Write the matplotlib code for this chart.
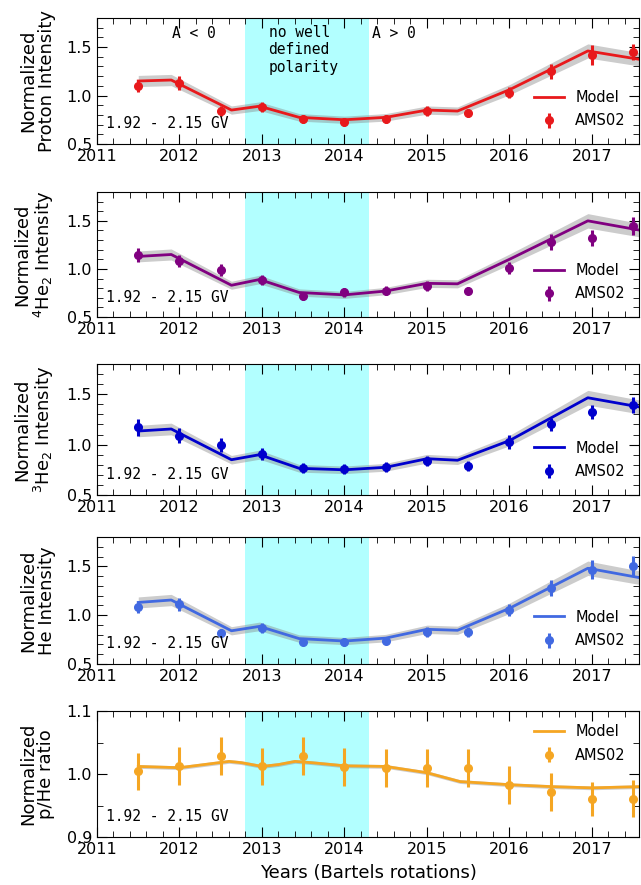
import numpy as np
import matplotlib
matplotlib.use('Agg')
import matplotlib.pyplot as plt
from matplotlib.ticker import MultipleLocator


# AMS02 time points (half-year steps)
obs_years = [2011.5, 2012.0, 2012.5, 2013.0, 2013.5, 2014.0, 2014.5,
             2015.0, 2015.5, 2016.0, 2016.5, 2017.0, 2017.5]

# model nodes for the intensity panels
model_years = [2011.5, 2011.9, 2012.63, 2012.97, 2013.45, 2014.0,
               2014.5, 2015.0, 2015.37, 2016.0, 2016.95, 2017.6]

proton_model = [1.15, 1.16, 0.85, 0.89, 0.775, 0.75, 0.775, 0.85, 0.84, 1.06, 1.46, 1.37]
proton_obs = [1.10, 1.13, 0.84, 0.88, 0.76, 0.73, 0.76, 0.84, 0.82, 1.03, 1.25, 1.42, 1.45]
proton_err = [0.06, 0.07, 0.05, 0.05, 0.04, 0.04, 0.04, 0.05, 0.04, 0.06, 0.08, 0.10, 0.08]

he4_model = [1.13, 1.15, 0.83, 0.89, 0.755, 0.73, 0.77, 0.85, 0.845, 1.10, 1.50, 1.40]
he4_obs = [1.145, 1.08, 0.99, 0.885, 0.72, 0.755, 0.775, 0.825, 0.775, 1.01, 1.28, 1.32, 1.445]
he4_err = [0.07, 0.06, 0.06, 0.05, 0.04, 0.05, 0.05, 0.05, 0.04, 0.06, 0.08, 0.08, 0.09]

he3_model = [1.135, 1.155, 0.85, 0.90, 0.765, 0.75, 0.775, 0.86, 0.845, 1.04, 1.465, 1.37]
he3_obs = [1.17, 1.09, 1.00, 0.91, 0.765, 0.755, 0.78, 0.835, 0.79, 1.025, 1.20, 1.32, 1.39]
he3_err = [0.08, 0.07, 0.07, 0.06, 0.05, 0.05, 0.05, 0.05, 0.05, 0.07, 0.06, 0.07, 0.08]

he_model = [1.13, 1.155, 0.84, 0.885, 0.76, 0.735, 0.765, 0.855, 0.845, 1.07, 1.48, 1.38]
he_obs = [1.085, 1.11, 0.82, 0.87, 0.73, 0.725, 0.74, 0.83, 0.83, 1.05, 1.28, 1.465, 1.505]
he_err = [0.06, 0.07, 0.04, 0.05, 0.04, 0.04, 0.04, 0.05, 0.05, 0.06, 0.08, 0.10, 0.10]

# p/He ratio model is smoother, more nodes
ratio_years = [2011.5, 2012.0, 2012.3, 2012.6, 2012.75, 2013.0, 2013.2, 2013.4,
               2013.6, 2014.0, 2014.5, 2015.0, 2015.4, 2016.0, 2016.5, 2017.0, 2017.6]
ratio_model = [1.012, 1.010, 1.015, 1.020, 1.018, 1.012, 1.015, 1.020,
               1.018, 1.013, 1.012, 1.002, 0.988, 0.983, 0.980, 0.978, 0.980]
ratio_obs = [1.004, 1.013, 1.028, 1.012, 1.029, 1.011, 1.010, 1.010, 1.010,
             0.983, 0.971, 0.961, 0.961]
ratio_err = [0.030, 0.030, 0.030, 0.030, 0.030, 0.030, 0.030, 0.030, 0.030,
             0.030, 0.030, 0.027, 0.030]

panels = [
    ('Normalized\nProton Intensity', proton_model, proton_obs, proton_err, '#e8191c'),
    ('Normalized\n$^4$He$_2$ Intensity', he4_model, he4_obs, he4_err, '#800080'),
    ('Normalized\n$^3$He$_2$ Intensity', he3_model, he3_obs, he3_err, '#0000cd'),
    ('Normalized\nHe Intensity', he_model, he_obs, he_err, '#4169e1'),
]

fig = plt.figure(figsize=(6.41, 8.85), dpi=100)

left, width = 97 / 641, 542 / 641
tops = [18, 192, 364, 537, 711]
bottoms = [144, 317, 495, 664, 837]


def style_axis(ax):
    ax.set_xlim(2011, 2017.57)
    ax.xaxis.set_major_locator(MultipleLocator(1))
    ax.xaxis.set_minor_locator(MultipleLocator(0.2))
    ax.tick_params(which='both', direction='in', top=True, right=True, labelsize=11.5)
    ax.tick_params(which='major', length=7)
    ax.tick_params(which='minor', length=4)
    ax.axvspan(2012.8, 2014.3, color='cyan', alpha=0.3, lw=0, zorder=0)
    ax.text(0.017, 0.16, '1.92 - 2.15 GV', transform=ax.transAxes, va='center',
            family='DejaVu Sans Mono', fontsize=10.5)


for i in range(5):
    rect = [left, 1 - bottoms[i] / 885, width, (bottoms[i] - tops[i]) / 885]
    ax = fig.add_axes(rect)
    style_axis(ax)
    if i < 4:
        label, model, obs, err, col = panels[i]
        m = np.array(model)
        ax.fill_between(model_years, m * 0.95, m * 1.05, color='gray', alpha=0.4, lw=0)
        ax.plot(model_years, m, color=col, lw=2, label='Model')
        ax.errorbar(obs_years, obs, yerr=err, fmt='o', color=col, ms=5.5,
                    elinewidth=2.2, capsize=0, label='AMS02')
        ax.set_ylim(0.5, 1.8)
        ax.yaxis.set_major_locator(MultipleLocator(0.5))
        ax.yaxis.set_minor_locator(MultipleLocator(0.1))
        ax.legend(loc='lower right', bbox_to_anchor=(1.0, 0.02), frameon=False,
                  fontsize=10.5, labelspacing=0.6)
    else:
        label = 'Normalized\np/He ratio'
        col = '#f5a623'
        r = np.array(ratio_model)
        ax.fill_between(ratio_years, r - 0.003, r + 0.003, color='gray', alpha=0.4, lw=0)
        ax.plot(ratio_years, r, color=col, lw=2, label='Model')
        ax.errorbar(obs_years, ratio_obs, yerr=ratio_err, fmt='o', color=col, ms=5.5,
                    elinewidth=2.2, capsize=0, label='AMS02')
        ax.set_ylim(0.9, 1.1)
        ax.yaxis.set_major_locator(MultipleLocator(0.1))
        ax.yaxis.set_minor_locator(MultipleLocator(0.05))
        ax.legend(loc='upper right', bbox_to_anchor=(1.0, 1.0), frameon=False,
                  fontsize=10.5, labelspacing=0.6)
        ax.set_xlabel('Years (Bartels rotations)', fontsize=13, labelpad=5)
    ax.set_ylabel(label, fontsize=13, linespacing=1.0, labelpad=8)

    if i == 0:
        ax.text(2011.91, 1.635, 'A < 0', family='DejaVu Sans Mono', fontsize=10.5, va='center')
        ax.text(2013.08, 1.73, 'no well\ndefined\npolarity', family='DejaVu Sans Mono',
                fontsize=10.5, va='top')
        ax.text(2014.33, 1.635, 'A > 0', family='DejaVu Sans Mono', fontsize=10.5, va='center')

fig.savefig('out.png', dpi=100)
